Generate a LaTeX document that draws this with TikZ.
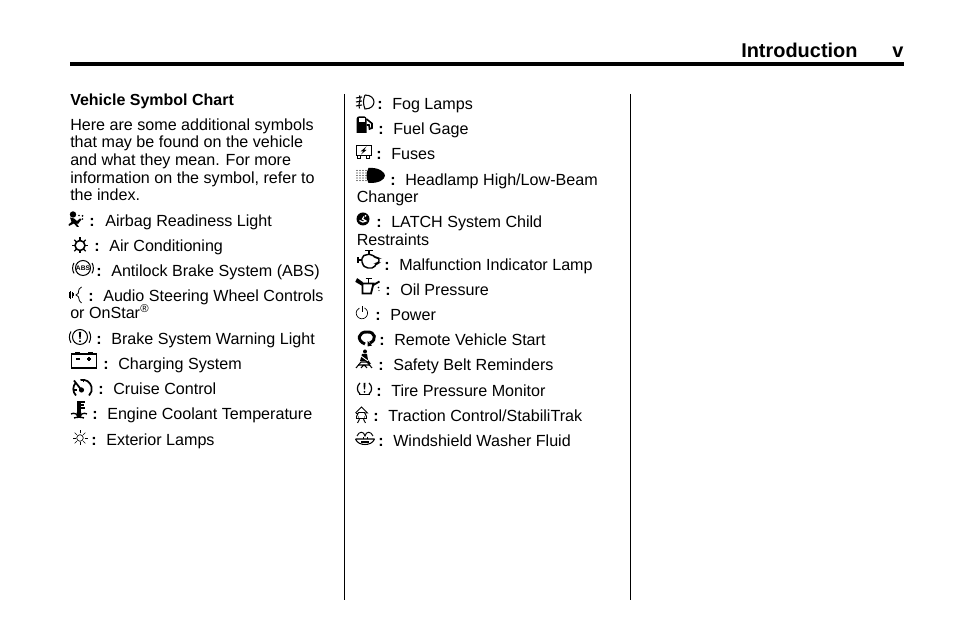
\documentclass[tikz,border=0pt]{standalone}
\usepackage{fontspec}
\setmainfont{Liberation Sans}
\newcommand{\T}[4]{\node[lbl,name=#1] at (#2,638-#3-1) {#4};}
\newcommand{\B}[4]{\node[lblb,name=#1] at (#2,638-#3-1) {#4};}
\begin{document}
\begin{tikzpicture}[x=0.75pt,y=0.75pt,
 lbl/.style={anchor=base west,inner sep=0pt,font=\fontsize{12.08}{14}\selectfont},
 lblb/.style={lbl,font=\fontsize{12}{14}\selectfont\bfseries},
 head/.style={lbl,font=\fontsize{14.95}{18}\selectfont\bfseries},
 ico/.style={line width=0.75pt,black},
 icoT/.style={line width=0.5pt,black}]
\useasboundingbox (0,0) rectangle (954,638);
\fill[white] (0,0) rectangle (954,638);
% header
\node[head,name=title] at (741,638-57.5) {Introduction};
\node[head,name=pageno] at (892,638-57.5) {v};
\fill[black] (70,638-62) rectangle (904,638-66);
\draw[line width=0.6pt] (344.7,638-94) -- (344.7,638-600);
\draw[line width=0.6pt] (630.5,638-94) -- (630.5,638-600);
% column 1
\B{h1}{70}{105}{Vehicle Symbol Chart}
\T{p1}{70}{130}{Here are some additional symbols}
\T{p2}{70}{147}{that may be found on the vehicle}
\T{p3}{70}{165}{and what they mean. For more}
\T{p4}{70}{183}{information on the symbol, refer to}
\T{p5}{70}{200}{the index.}
\B{c1}{89}{226}{:}\T{a1}{105}{226}{Airbag Readiness Light}
\B{c2}{94}{251}{:}\T{a2}{109}{251}{Air Conditioning}
\B{c3}{96}{276}{:}\T{a3}{111}{276}{Antilock Brake System (ABS)}
\B{c4}{88}{301}{:}\T{a4}{103}{301}{Audio Steering Wheel Controls}
\T{a4b}{70}{318}{or OnStar}
\node[lbl,name=a4r,font=\fontsize{8.5}{9}\selectfont] at (140,638-313) {®};
\B{c5}{96}{344}{:}\T{a5}{111}{344}{Brake System Warning Light}
\B{c6}{103}{369}{:}\T{a6}{118}{369}{Charging System}
\B{c7}{98}{394}{:}\T{a7}{113}{394}{Cruise Control}
\B{c8}{92}{419}{:}\T{a8}{107}{419}{Engine Coolant Temperature}
\B{c9}{91}{445}{:}\T{a9}{106}{445}{Exterior Lamps}
% column 2
\B{d1}{377}{109}{:}\T{b1}{392}{109}{Fog Lamps}
\B{d2}{378}{134}{:}\T{b2}{393}{134}{Fuel Gage}
\B{d3}{376}{159}{:}\T{b3}{391}{159}{Fuses}
\B{d4}{390}{185}{:}\T{b4}{405}{185}{Headlamp High/Low-Beam}
\T{b4b}{356.5}{202}{Changer}
\B{d5}{376}{227}{:}\T{b5}{391}{227}{LATCH System Child}
\T{b5b}{356.5}{245}{Restraints}
\B{d6}{384}{270}{:}\T{b6}{399}{270}{Malfunction Indicator Lamp}
\B{d7}{385}{295}{:}\T{b7}{400}{295}{Oil Pressure}
\B{d8}{375}{320}{:}\T{b8}{390}{320}{Power}
\B{d9}{379}{345}{:}\T{b9}{394}{345}{Remote Vehicle Start}
\B{d10}{378}{370}{:}\T{b10}{393}{370}{Safety Belt Reminders}
\B{d11}{376}{396}{:}\T{b11}{391}{396}{Tire Pressure Monitor}
\B{d12}{373}{421}{:}\T{b12}{388}{421}{Traction Control/StabiliTrak}
\B{d13}{378}{446}{:}\T{b13}{393}{446}{Windshield Washer Fluid}
% ICONS (local origin = icon centre)
% airbag
\begin{scope}[shift={(76,638-220)}]
 \fill (-3,5.5) circle (3.2);
 \fill (-6,2.5) -- (-2,1.5) -- (1,-1) -- (4,1.5) -- (5.5,0.5) -- (2,-4) -- (0,-2.5) -- (3,-7) -- (1,-7) -- (-2,-3.5) -- (-5,-5) -- (-7,-6) -- (-7.5,-4.5) -- (-4.5,-2) -- cycle;
 \fill (6.5,4) circle (1);\fill (3,4.5) circle (0.9);\fill (6.5,1) circle (0.8);
\end{scope}
% air conditioning
\begin{scope}[shift={(80,638-245.5)}]
 \draw[line width=1.2pt] (0,0) circle (5);
 \foreach \a in {0,45,...,315} \draw[line width=0.9pt,rotate=\a] (4.5,0) -- (8,0);
\end{scope}
% ABS
\begin{scope}[shift={(83,638-268)}]
 \draw[ico] (0,0) circle (7.5);
 \draw[ico] (-9,5) arc (150:210:10.4);
 \draw[ico] (9,5) arc (30:-30:10.4);
 \node[inner sep=0pt,font=\fontsize{5}{5}\selectfont\bfseries,name=absi] at (0,0) {ABS};
\end{scope}
% audio
\begin{scope}[shift={(76,638-295)}]
 \draw[line width=0.5pt] (-7,-3) -- (-7,3) (-5.5,-4) -- (-5.5,4) (-4,-3) -- (-4,3);
 \draw[line width=0.5pt] (-2.5,-1.5) -- (-2.5,1.5);
 \draw[line width=0.6pt] (5.5,8) .. controls (0,5) and (5,2) .. (0,0) .. controls (5,-2) and (1,-5) .. (5.5,-8);
\end{scope}
% brake
\begin{scope}[shift={(80,638-337)}]
 \draw[ico] (0,0) circle (7.5);
 \draw[ico] (-9,5.5) arc (148:212:10.6);
 \draw[ico] (9,5.5) arc (32:-32:10.6);
 \fill (-1.1,5) -- (1.1,5) -- (0.6,-2) -- (-0.6,-2) -- cycle;
 \fill (0,-4.2) circle (1.1);
\end{scope}
% charging
\begin{scope}[shift={(84,638-360)}]
 \draw[line width=1.05pt] (-12.5,-8) rectangle (12.5,6);
 \fill (-9,6) rectangle (-4,8); \fill (4,6) rectangle (9,8);
 \draw[line width=0.8pt] (-8,1) -- (-4,1) (3,1) -- (7,1) (5,-1) -- (5,3);
\end{scope}
% cruise
\begin{scope}[shift={(82.5,638-389)}]
 \draw[line width=1.3pt] (-6.5,-6.5) arc (225:135:9.2);
 \draw[line width=1.3pt] (-2,9) arc (103:-45:9.2);
 \fill (-1,-1) circle (2.6);
 \draw[line width=1.3pt] (-1,-1) -- (-8.5,8.5);
 \draw[line width=1.1pt] (-8.5,-1) -- (-6,-1) (1,6.5) -- (1,9);
\end{scope}
% engine coolant
\begin{scope}[shift={(79,638-410)}]
 \fill (-1.6,-4) rectangle (1.6,8.5);
 \fill (0,-4.5) circle (3);
 \draw[line width=0.9pt] (1.4,8) -- (5.5,8) (1.4,5) -- (4.5,5) (1.4,2) -- (5.5,2);
 \draw[line width=1pt] (-8,-4) .. controls (-6,-3) and (-5,-3) .. (-3,-4);
 \draw[line width=1pt] (3,-4) .. controls (5,-3) and (6,-3) .. (8,-4);
 \draw[line width=1pt] (-5,-8) .. controls (-2,-7) and (2,-7) .. (5,-8);
\end{scope}
% exterior lamps
\begin{scope}[shift={(80,638-438)}]
 \draw[icoT] (0,0) circle (3.3);
 \foreach \a in {0,45,...,315} \draw[line width=0.45pt,rotate=\a] (4.5,0) -- (7.5,0);
\end{scope}
% fog
\begin{scope}[shift={(365,638-102)}]
 \draw[line width=0.8pt] (0,7) .. controls (12,7) and (12,-7) .. (0,-7) .. controls (-2,-2) and (-2,2) .. (0,7);
 \draw[line width=0.8pt] (-9,4) -- (-3,5) (-9,0) -- (-3,1) (-9,-4) -- (-3,-3);
 \draw[line width=0.8pt] (-5.5,6.5) .. controls (-3.5,2) and (-7.5,-2) .. (-5.5,-6.5);
\end{scope}
% fuel
\begin{scope}[shift={(365,638-125)}]
 \fill (-8.5,-8) -- (-8.5,6) .. controls (-8.5,8) and (-7,8.5) .. (-6,8.5) -- (-0.5,8.5) .. controls (1,8.5) and (1.5,7) .. (1.5,6) -- (1.5,-8) -- cycle;
 \draw[line width=1.2pt] (1.5,6) -- (7,1.5) -- (7,-3) -- (4.5,-4) -- (4,0) -- (1.5,0);
 \fill[white] (-6.5,2.5) rectangle (-0.5,6.5);
\end{scope}
% fuses
\begin{scope}[shift={(363.5,638-152)}]
 \draw[line width=0.7pt] (-7.5,-3.5) rectangle (7.5,6.5);
 \draw[line width=0.7pt] (-6,-3.5) rectangle (-3,-6.5); \draw[line width=0.7pt] (3,-3.5) rectangle (6,-6.5);
 \fill (3,5.5) -- (-3,0.5) -- (-0.3,0.5) -- (-2.5,-2.5) -- (3,2) -- (0.6,2) -- cycle;
\end{scope}
% headlamp
\begin{scope}[shift={(371,638-175.5)}]
 \fill (-2.5,7.5) .. controls (8,8.5) and (14,3) .. (14,0) .. controls (14,-4) and (8,-8) .. (-2.5,-7.5) .. controls (-5,-3) and (-5,3) .. (-2.5,7.5) -- cycle;
 \foreach \y in {-5,-2.5,...,5} \foreach \x in {-14,-11,-8,-5} \fill (\x,\y) circle (0.55);
\end{scope}
% latch
\begin{scope}[shift={(363,638-219)}]
 \fill (0,0) circle (6.5);
 \draw[white,line width=0.9pt] (-3.5,-1.5) .. controls (-1,-3.5) and (1,-3.5) .. (3,-2) -- (-0.5,0) -- (1,2.5);
 \fill[white] (2.5,3) circle (1);
\end{scope}
% MIL
\begin{scope}[shift={(369,638-260)}]
 \draw[line width=1.1pt,rounded corners=1.5pt] (-7,-4) -- (-7,3.5) -- (-3,5.5) -- (3,5.5) -- (7,2) -- (10,2) -- (10,-3) -- (7.5,-3) -- (5,-8) -- (-3,-8) -- cycle;
 \draw[line width=1.1pt] (-11,-3) -- (-11,3) (-11,0) -- (-7,0);
 \draw[line width=1.1pt] (0,5.5) -- (0,9) (-4,9.5) -- (4,9.5);
\end{scope}
% oil
\begin{scope}[shift={(368.5,638-286.5)}]
 \draw[line width=1.4pt] (-6,3) -- (5,3) -- (2.5,-7) -- (-6,-7) -- cycle;
 \draw[line width=1.4pt] (-6,1.5) -- (-12,5) -- (-11,7) -- (-6,3.5);
 \draw[line width=1.4pt] (4,1) -- (11,5);
 \draw[line width=1.1pt] (-3,8) -- (3,8) (0,8) -- (0,3);
 \fill (10,-1) circle (0.9);\fill (10.5,-4) circle (0.7);
\end{scope}
% power
\begin{scope}[shift={(362,638-313)}]
 \draw[line width=0.5pt] (2.5,5) arc (63:-243:5.7);
 \draw[line width=0.5pt] (0,6.5) -- (0,0.5);
\end{scope}
% remote
\begin{scope}[shift={(367,638-338)}]
 \draw[line width=2.2pt] (-2,-6) .. controls (-11,-2.5) and (-8.5,6.5) .. (0,6) .. controls (8.5,6.5) and (10,-2) .. (3,-5);
 \fill (0.5,-3) -- (0.5,-8.5) -- (5,-7.5) -- cycle;
\end{scope}
% safety belt
\begin{scope}[shift={(364,638-359)}]
 \fill (1,7.5) circle (2);
 \fill (-2,5) -- (3,5) -- (4,-1) -- (7,-5) -- (5,-5) -- (1,-2) -- (-4,-2) -- cycle;
 \draw[white,line width=0.7pt] (-3,3) -- (4,-2);
 \draw[line width=0.8pt] (-8,-9) -- (-3,-3) -- (3,-3) -- (8,-9);
 \draw[line width=0.8pt] (-6,-6) -- (6,-6) (-3,-9) -- (0,-6) -- (3,-9);
\end{scope}
% tire
\begin{scope}[shift={(364.5,638-389)}]
 \draw[line width=0.9pt] (-4.5,6) .. controls (-8,3) and (-8,-2) .. (-4.5,-5);
 \draw[line width=0.9pt] (4.5,6) .. controls (8,3) and (8,-2) .. (4.5,-5);
 \draw[line width=0.9pt] (-5.5,-5.5) -- (5.5,-5.5);
 \fill (-1,6) -- (1,6) -- (0.6,-0.5) -- (-0.6,-0.5) -- cycle;
 \fill (0,-3) circle (1);
\end{scope}
% traction
\begin{scope}[shift={(361.5,638-415)}]
 \draw[line width=0.7pt] (-6,2) -- (0,8) -- (6,2) -- (3.5,2);
 \draw[line width=0.7pt] (-6,2) -- (-3.5,2);
 \draw[line width=0.7pt] (-5,-1.5) -- (-3,2.5) -- (3,2.5) -- (5,-1.5) -- (5,-3.5) -- (-5,-3.5) -- cycle;
 \fill (-3,-2) circle (0.7); \fill (3,-2) circle (0.7);
 \draw[line width=0.7pt] (-4,-8) .. controls (-2,-6) and (-3,-5) .. (-2,-3.5);
 \draw[line width=0.7pt] (4,-8) .. controls (2,-6) and (3,-5) .. (2,-3.5);
\end{scope}
% washer
\begin{scope}[shift={(365,638-438)}]
 \draw[line width=0.8pt] (-9.5,-1) -- (9.5,-1) (-9.5,-1) .. controls (-8,-5) and (-4,-6.5) .. (0,-6.5) .. controls (4,-6.5) and (8,-5) .. (9.5,-1);
 \draw[line width=0.7pt] (-8,2) .. controls (-6,7) and (-1,7) .. (0,2) .. controls (1,7) and (6,7) .. (8,2);
 \draw[line width=1.4pt] (-4,-3.8) -- (4,-3.8);
 \draw[line width=0.7pt] (-2,-1) -- (-2,1) (2,-1) -- (2,1);
\end{scope}
\end{tikzpicture}
\end{document}
